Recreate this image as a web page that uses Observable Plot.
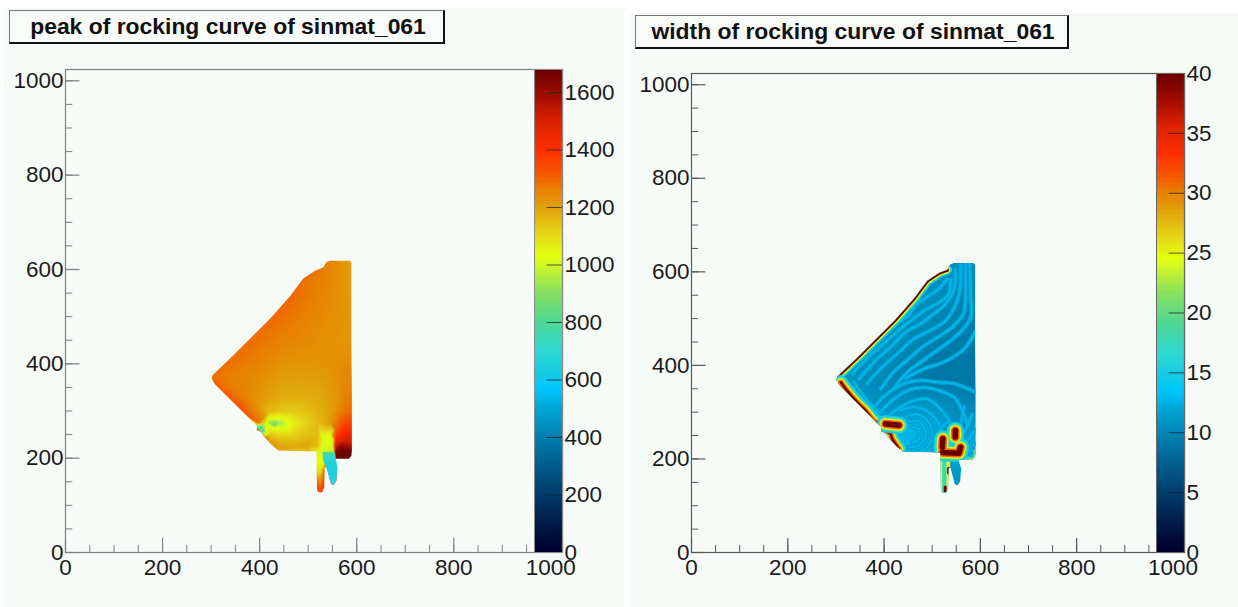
<!DOCTYPE html>
<html>
<head>
<meta charset="utf-8">
<script src="https://cdn.jsdelivr.net/npm/d3@7"></script>
<script src="https://cdn.jsdelivr.net/npm/@observablehq/plot@0.6"></script>
<style>
html,body{margin:0;padding:0;background:#fff;width:1238px;height:607px;overflow:hidden}
body{position:relative;font-family:"Liberation Sans",Arial,sans-serif}
.bg{position:absolute;background:#f6fbf8}
.layer{position:absolute;top:0}
.layer svg{display:block;background:transparent;overflow:visible;max-width:none !important}
.title{position:absolute;box-sizing:border-box;background:#f8fbf8;border:1px solid #777;border-right:2px solid #111;border-bottom:2px solid #111;
 font-weight:bold;font-size:22.9px;color:#111;text-align:center;line-height:31px;white-space:nowrap;padding-left:3px}
</style>
</head>
<body>
<script>
const peakTitle = "peak of rocking curve of sinmat_061";
const widthTitle = "width of rocking curve of sinmat_061";
const xMajor = [0,200,400,600,800,1000];
const xMinor = d3.range(0,1001,50);
const peakTicks = [0,200,400,600,800,1000,1200,1400,1600];
const widthTicks = [0,5,10,15,20,25,30,35,40];

// shared palette, as fractions of the colour bar
const paletteStops = [0,.06,.12,.18,.24,.30,.34,.36,.42,.48,.54,.60,.615,.655,.715,.75,.78,.83,.895,.95,1];
const paletteColors = ["#00002e","#001a48","#003c6c","#005c8c","#0080b0","#00a8d8","#00c8ff","#10c8e8","#30d8d0","#50d890","#88e060","#d8f820","#e0ff10","#e6d818","#e0a008","#e88000","#f45c00","#ff3000","#d82000","#9a0a00","#6b0000"];

// sample outline of the illuminated region (data units)
const outline = [[589,615],[585,619],[545,619],[537,615],[531,604],[515,598],[490,581],[476,562],[464,545],[422,496],[346,418],[303,376],[301,370],[307,358],[387,276],[395,268],[394,259],[402,256],[412,242],[425,228],[439,216],[517,214],[518,138],[519,130],[524,127],[529,128],[533,138],[534,181],[538,181],[547,146],[552,143],[558,152],[560,180],[554,199],[584,199],[589,205],[590,216],[590,329],[589,449]];
const tail2Outline = [[529,214],[555,214],[560,180],[558,152],[552,143],[547,146],[538,178],[531,195]];
const upperEdge = outline.slice(4,12);
const lowerEdge = outline.slice(11,20);
const cornerEdge = outline.slice(33,37);

// peak: grid of values
const peakCols = [295,320,345,370,395,420,445,470,495,520,545,570,595];
const peakYs = [625,600,575,550,525,500,475,450,425,400,375,350,325,300,275,250,225];
const n = null;
const peakRows = [
[n,n,n,n,n,n,n,n,n,1270,1250,1220,1185],
[n,n,n,n,n,n,n,n,n,1270,1250,1225,1190],
[n,n,n,n,n,n,n,n,1275,1262,1248,1222,1195],
[n,n,n,n,n,n,n,1295,1272,1255,1243,1225,1195],
[n,n,n,n,n,n,1295,1280,1262,1250,1238,1225,1200],
[n,n,n,n,n,1300,1285,1270,1258,1248,1235,1225,1205],
[n,n,n,n,1295,1282,1270,1260,1250,1240,1232,1222,1210],
[n,n,n,1290,1280,1268,1258,1250,1243,1235,1228,1222,1215],
[n,n,1290,1278,1265,1255,1243,1236,1232,1228,1226,1226,1226],
[n,1285,1275,1265,1255,1240,1228,1222,1220,1222,1228,1238,1240],
[1285,1270,1260,1252,1240,1225,1212,1205,1205,1208,1215,1240,1255],
[n,1285,1265,1252,1235,1212,1195,1190,1190,1195,1208,1245,1265],
[n,n,1295,1262,1225,1195,1172,1168,1172,1180,1200,1250,1280],
[n,n,n,1310,1240,1160,1130,1130,1145,1168,1200,1265,1300],
[n,n,n,n,1300,930,950,1060,1110,1155,1210,1330,1360],
[n,n,n,n,n,1130,1100,1110,1140,1150,1040,1430,1470],
[n,n,n,n,n,n,1190,1180,1190,1150,1010,1620,1640]
];
// peak: finer readings near the edges, the blob, the tails and the hot corner
const peakFine = [
[464,548,1312],[490,583,1305],[360,310,1330],[330,335,1330],[375,290,1320],[316,350,1320],
[430,272,850],[415,272,1000],[400,262,620],[405,270,900],[397,275,1280],[455,272,1000],[430,285,1040],[430,260,1060],
[412,242,1280],[425,228,1220],[439,216,1200],
[525,212,1020],[520,190,1040],[532,190,1040],[525,170,1090],[525,155,1200],[525,145,1280],[525,130,1340],
[530,245,1030],[545,245,1040],[530,225,1010],[550,225,1000],[551,212,960],[551,240,1050],[551,260,1130],
[556,212,1640],[556,225,1520],[556,240,1400],[557,260,1300],[556,203,1680],[575,203,1680],[590,203,1680],[575,215,1680],[590,215,1660],[575,235,1520],[590,235,1500],
[565,290,1280],[580,280,1340]
];
const peakTail2 = [[529,214,850],[555,214,850],[530,205,720],[556,205,720],[533,190,660],[560,190,660],[538,170,650],[560,170,650],[547,148,680],[558,148,680],[552,143,680]];

// width: smooth background level
const widthCols = [300,350,400,450,500,550,600];
const widthYs = [620,570,520,470,420,370,320,270,220,170,120];
const widthRows = [
[11,11,11,11,10.5,10.5,10],
[11,11,11,11,10.5,10,10],
[11,11,11,10.8,10.2,9.8,9.8],
[11,11,10.8,10.3,9.8,9.5,9.5],
[11,10.8,10.4,9.8,9.2,9,9],
[11,10.5,10,9.4,9,9,9],
[11,11,10.5,10.5,10.5,10,10],
[12,12,12,12.5,12,10.5,11.5],
[12,12,12,13,12,12,12],
[11,11,11,11,11,11,11],
[11,11,11,11,11,11,11]
];
// width: light fringes
const fringes = [
[[531,585],[514,564],[483,542],[465,528],[451,507],[427,489],[393,460],[358,428],[323,393]],
[[538,585],[535,553],[510,532],[483,517],[462,500],[438,482],[403,450],[368,418],[334,382]],
[[548,606],[546,564],[531,535],[503,510],[476,489],[445,471],[413,439],[379,407],[348,371]],
[[559,614],[557,557],[548,528],[528,496],[496,475],[462,457],[427,425],[393,393],[365,361]],
[[569,617],[569,549],[566,514],[545,485],[517,464],[483,442],[451,414],[420,386],[393,350]],
[[578,617],[580,549],[580,503],[562,475],[538,453],[510,432],[476,407],[445,382],[420,350]],
[[589,471],[566,435],[524,407],[483,393],[445,372]],
[[379,311],[406,339],[441,361],[476,368],[510,364],[545,361],[589,343]],
[[389,296],[417,325],[448,346],[483,353],[514,346],[545,332],[562,304],[573,275]],
[[410,293],[434,311],[462,325],[490,328],[510,314],[531,289],[541,268]],
[[434,304],[462,311],[486,304],[507,286],[521,261],[531,239]],
[[445,289],[469,296],[490,282],[500,257],[493,229],[469,214],[441,218]],
[[451,279],[469,282],[483,268],[486,247],[472,229],[451,225]],
[[458,268],[472,264],[472,243],[458,236]],
[[548,247],[559,275],[566,311]],
[[555,239],[569,261],[583,296]],
[[562,232],[573,239],[589,261]],
[[566,218],[589,232]],
[[569,200],[589,211]],
[[320,361],[351,311],[382,282]],
[[337,364],[365,325],[393,296]],
[[503,218],[507,246],[521,268],[535,282]]
];
// width: saturated streaks
const thinStreaks = [
[[310,364],[320,350],[344,321],[361,304],[382,279],[396,275]],
[[396,264],[413,254],[417,243],[431,222]]
];
const thickStreaks = [
[[403,275],[431,272]],
[[521,214],[555,212]],
[[559,225],[556,214]],
[[522,243],[521,225]],
[[548,261],[548,247]]
];
const tail1Center = [[525,212],[525,130]];
const tail1Sides = [[[518,212],[518,130]],[[533,212],[533,130]]];
const tail1Hot = [[[534,180],[534,170]],[[527,140],[527,132]]];

const peakMax = 1680, widthMax = 40;
const fontFamily = '"Liberation Sans", Arial, sans-serif';
const labelSize = 22.5;

function colorScale(max){
  return {type:"linear", domain:paletteStops.map(f=>f*max), range:paletteColors, clamp:true};
}
let clipId = 0;
function clipTo(poly){
  return (index, scales, values, dims, ctx, next) => {
    const g = next(index, scales, values, dims, ctx);
    const id = "clip" + (++clipId);
    const cp = document.createElementNS("http://www.w3.org/2000/svg","clipPath");
    cp.setAttribute("id", id);
    const p = document.createElementNS("http://www.w3.org/2000/svg","polygon");
    p.setAttribute("points", poly.map(([x,y]) => [scales.x(x), scales.y(y)].join(",")).join(" "));
    cp.appendChild(p);
    g.appendChild(cp);
    g.setAttribute("clip-path", `url(#${id})`);
    return g;
  };
}
function gridSamples(cols, ys, rows){
  return rows.flatMap((row,j) => row.map((v,i) => ({x:cols[i], y:ys[j], v})).filter(d => d.v !== null));
}
function triples(list){ return list.map(([x,y,v]) => ({x,y,v})); }
function paths(lines, v){ return lines.flatMap((pts,i) => pts.map(([x,y]) => ({id:i,x,y,v}))); }
function field(samples, poly){
  return Plot.raster(samples, {x:"x", y:"y", fill:"v", interpolate:"barycentric", render:clipTo(poly)});
}
function stroked(lines, v, w, curve="catmull-rom", poly=outline){
  return Plot.line(paths(lines,v), {x:"x", y:"y", z:"id", stroke:"v", strokeWidth:w, curve, strokeLinejoin:"round", strokeLinecap:"round", render:clipTo(poly)});
}
function glow(lines, w){
  return [[14.5,w+12],[18,w+9],[25,w+6],[31,w+3],[40,w]].map(([v,sw]) => stroked(lines, v, sw));
}
function axesMarks(tickColor){
  return [
    Plot.ruleX(xMinor, {x:d=>d, y1:0, y2:15, stroke:tickColor, strokeWidth:1}),
    Plot.ruleX(xMajor, {x:d=>d, y1:0, y2:30, stroke:tickColor, strokeWidth:1.2}),
    Plot.ruleY(xMinor, {y:d=>d, x1:0, x2:15, stroke:tickColor, strokeWidth:1}),
    Plot.ruleY(xMajor, {y:d=>d, x1:0, x2:30, stroke:tickColor, strokeWidth:1.2}),
    Plot.axisX({ticks:xMajor, tickFormat:"d", tickSize:0, tickPadding:7, fontSize:labelSize, fill:"#1a1a1a", label:null}),
    Plot.axisY({ticks:xMajor, tickFormat:"d", tickSize:0, tickPadding:2, fontSize:labelSize, fill:"#1a1a1a", label:null}),
    Plot.frame({stroke:tickColor, strokeWidth:1.2})
  ];
}
function panel({left, width, top, frameLeft, frameRight, max, marks, tickColor}){
  const div = document.createElement("div");
  div.className = "layer"; div.style.left = left + "px"; div.style.width = width + "px";
  div.appendChild(Plot.plot({
    width, height:607, marginTop:top, marginBottom:55, marginLeft:frameLeft-left, marginRight:left+width-frameRight,
    style:{fontFamily, background:"transparent"},
    x:{domain:[0,1024], axis:null}, y:{domain:[0,1024], axis:null},
    color:colorScale(max),
    marks:[...marks, ...axesMarks(tickColor)]
  }));
  document.body.appendChild(div);
}
function colorBar({left, x1, x2, top, max, ticks, tickColor}){
  const count = 150;
  const levels = d3.range(count).map(i => ({y1:i*max/count, y2:(i+1)*max/count, v:(i+.5)*max/count}));
  const div = document.createElement("div");
  const width = x2-left+54;
  div.className = "layer"; div.style.left = left + "px"; div.style.width = width + "px";
  div.appendChild(Plot.plot({
    width, height:607, marginTop:top, marginBottom:55, marginLeft:x1-left, marginRight:54,
    style:{fontFamily, background:"transparent"},
    x:{domain:[0,1], axis:null}, y:{domain:[0,max], axis:null},
    color:colorScale(max),
    marks:[
      Plot.rect(levels, {x1:0, x2:1, y1:"y1", y2:"y2", fill:"v", shapeRendering:"crispEdges"}),
      Plot.ruleY(ticks, {y:d=>d, x1:.45, x2:1, stroke:"#222", strokeOpacity:.75, strokeWidth:1}),
      Plot.ruleX([1], {stroke:tickColor, strokeWidth:1.2}),
      Plot.ruleX([0], {stroke:tickColor, strokeWidth:1}),
      Plot.ruleY([0,max], {stroke:tickColor, strokeWidth:1}),
      Plot.axisY({anchor:"right", ticks, tickFormat:"d", tickSize:0, tickPadding:2, fontSize:labelSize, fill:"#1a1a1a", label:null})
    ]
  }));
  document.body.appendChild(div);
}
function box(cls, l, t, w, h){
  const d = document.createElement("div");
  d.className = cls; Object.assign(d.style, {left:l+"px", top:t+"px", width:w+"px", height:h+"px"});
  document.body.appendChild(d); return d;
}

box("bg", 4, 8, 620, 599);
box("bg", 630, 13, 608, 594);

// left
panel({left:0, width:624, top:69, frameLeft:65, frameRight:562, max:peakMax, tickColor:"#808080", marks:[
  field([...gridSamples(peakCols,peakYs,peakRows), ...triples(peakFine)], outline),
  field(triples(peakTail2), tail2Outline)
]});
colorBar({left:480, x1:534, x2:562, top:69, max:peakMax, ticks:peakTicks, tickColor:"#8a8a8a"});
box("title", 9, 10, 436, 34).textContent = peakTitle;

// right
panel({left:630, width:608, top:73, frameLeft:691, frameRight:1184, max:widthMax, tickColor:"#5a5a5a", marks:[
  field(gridSamples(widthCols,widthYs,widthRows), outline),
  stroked(fringes, 11.4, 4.4),
  stroked(fringes, 12.7, 2.2),
  stroked([lowerEdge], 15, 14, "linear"),
  stroked([lowerEdge], 21, 10, "linear"),
  stroked([upperEdge], 15, 10, "linear"),
  stroked([upperEdge], 24, 6.5, "linear"),
  stroked([upperEdge], 40, 3.6, "linear"),
  stroked([cornerEdge], 20, 4, "linear"),
  stroked(tail1Sides, 25, 4, "linear"),
  stroked([tail1Center], 17, 4, "linear"),
  ...glow(thinStreaks, 2.2),
  ...glow(thickStreaks, 5.5),
  stroked(tail1Hot, 40, 3, "linear")
]});
colorBar({left:1100, x1:1156, x2:1184, top:73, max:widthMax, ticks:widthTicks, tickColor:"#666"});
box("title", 635, 15, 434, 34).textContent = widthTitle;
</script>
</body>
</html>
